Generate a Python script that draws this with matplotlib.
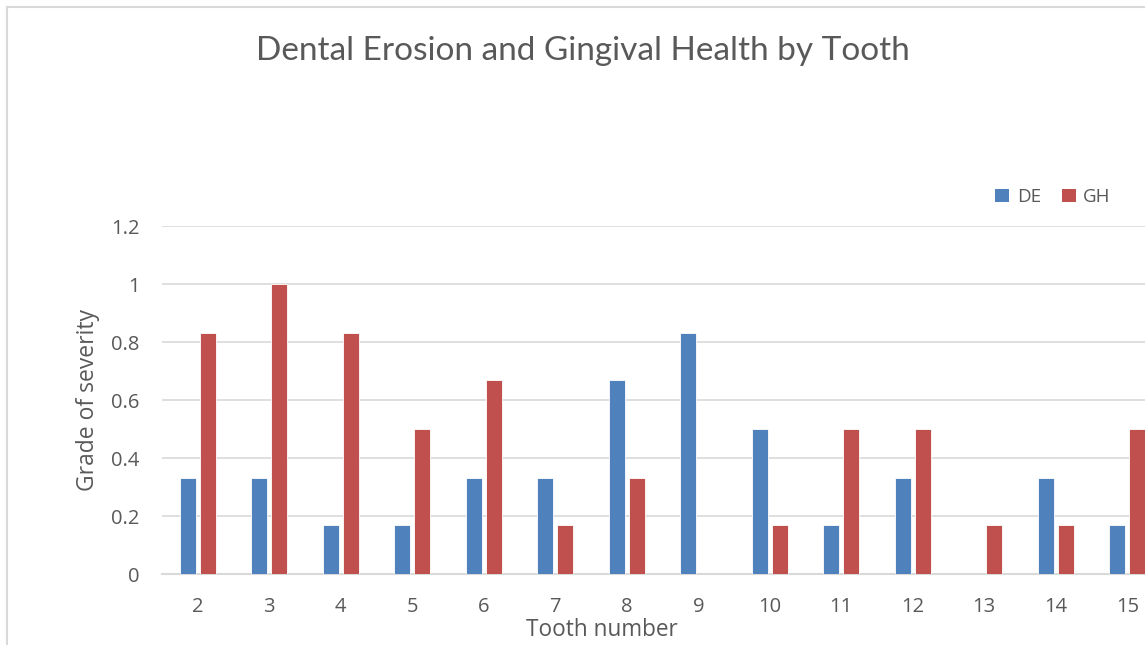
import matplotlib
matplotlib.use("Agg")
import matplotlib.pyplot as plt
import numpy as np
from matplotlib.lines import Line2D
from matplotlib.patches import Patch

teeth = ["2", "3", "4", "5", "6", "7", "8", "9", "10", "11", "12", "13", "14", "15"]
de_values = [0.33, 0.33, 0.17, 0.17, 0.33, 0.33, 0.67, 0.83, 0.5, 0.17, 0.33, 0, 0.33, 0.17]
gh_values = [0.83, 1.0, 0.83, 0.5, 0.67, 0.17, 0.33, 0, 0.17, 0.5, 0.5, 0.17, 0.17, 0.5]
y_ticks = [0, 0.2, 0.4, 0.6, 0.8, 1, 1.2]
y_tick_labels = ["0", "0.2", "0.4", "0.6", "0.8", "1", "1.2"]

DE_COLOR = "#4F81BD"
GH_COLOR = "#C0504D"
TEXT = "#595959"
GRID = "#D9D9D9"

plt.rcParams["font.family"] = ["Open Sans", "DejaVu Sans"]

W, H = 1145, 645
fig = plt.figure(figsize=(W / 100, H / 100), dpi=100)
fig.patch.set_facecolor("white")

# chart-area border (top and left visible)
fig.add_artist(Line2D([7 / W, 7 / W], [0, 1 - 7 / H], transform=fig.transFigure, color=GRID, lw=1.5))
fig.add_artist(Line2D([7 / W, 1], [1 - 7 / H, 1 - 7 / H], transform=fig.transFigure, color=GRID, lw=1.5))

left = 162 / W
right = 1163 / W
bottom = (H - 574) / H
top = (H - 226) / H
ax = fig.add_axes([left, bottom, right - left, top - bottom])

x = np.arange(len(teeth))
bw = 0.225
off = 0.14
ax.bar(x - off, de_values, width=bw, color=DE_COLOR, edgecolor="white", linewidth=0.6, label="DE", zorder=3)
ax.bar(x + off, gh_values, width=bw, color=GH_COLOR, edgecolor="white", linewidth=0.6, label="GH", zorder=3)

ax.set_xlim(-0.5, len(teeth) - 0.5)
ax.set_ylim(0, 1.2)
ax.set_yticks(y_ticks)
ax.set_yticklabels(y_tick_labels)
ax.set_xticks(x)
ax.set_xticklabels(teeth)
ax.yaxis.grid(True, color=GRID, lw=1.2, zorder=0)
ax.set_axisbelow(True)
for s in ["top", "right", "left"]:
    ax.spines[s].set_visible(False)
ax.spines["bottom"].set_color(GRID)
ax.spines["bottom"].set_linewidth(1.5)
ax.tick_params(axis="both", length=0, colors=TEXT, labelsize=14.5)
ax.tick_params(axis="y", pad=16)
ax.tick_params(axis="x", pad=16.5)

fig.text(88 / W, 1 - 400 / H, "Grade of severity", rotation=90, ha="center", va="center",
         color=TEXT, fontsize=16.5)
fig.text(602 / W, 1 - 630 / H, "Tooth number", ha="center", va="center", color=TEXT, fontsize=16.3)
fig.text(583 / W, 1 - 51 / H, "Dental Erosion and Gingival Health by Tooth", ha="center", va="center",
         color=TEXT, fontsize=24, family=["Lato", "DejaVu Sans"])

handles = [Patch(facecolor=DE_COLOR, label="DE"), Patch(facecolor=GH_COLOR, label="GH")]
fig.legend(handles=handles, loc="center", bbox_to_anchor=(1053 / W, 1 - 197 / H), ncol=2, frameon=False,
           fontsize=13.5, labelcolor=TEXT, handlelength=0.75, handleheight=0.75, handletextpad=0.4,
           columnspacing=1.1)

fig.savefig("out.png", dpi=100)
